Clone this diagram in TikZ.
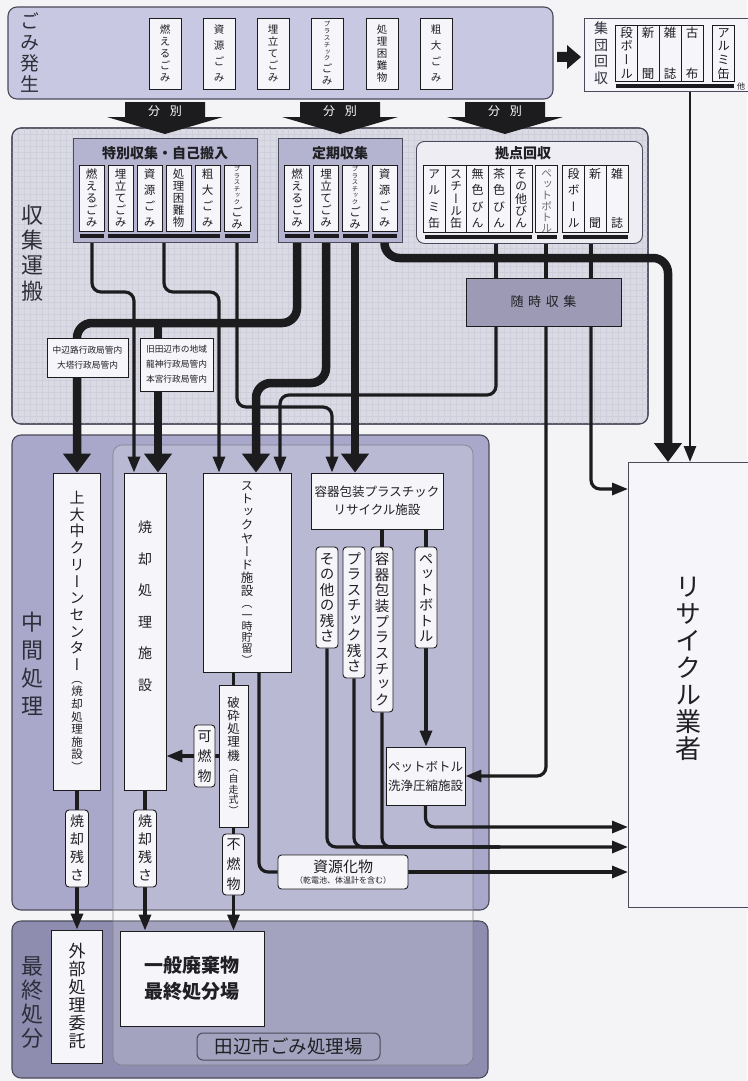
\documentclass[tikz,border=0pt]{standalone}
\usepackage{fontspec}
\setmainfont{Noto Sans CJK JP}
\newfontfamily\jpv[RawFeature=+vert]{Noto Sans CJK JP}
\usetikzlibrary{arrows.meta}
\pgfdeclarelayer{back}
\pgfdeclarelayer{lines}
\pgfsetlayers{back,lines,main}
\definecolor{pagebg}{HTML}{F4F4F7}
\definecolor{gomiF}{HTML}{C9C8E2}
\definecolor{shuF}{HTML}{DADAE4}
\definecolor{gridc}{HTML}{CFCFDB}
\definecolor{grpF}{HTML}{B5B4D0}
\definecolor{kyoF}{HTML}{EDEDF3}
\definecolor{zuiF}{HTML}{9C9AB4}
\definecolor{chuF}{HTML}{A9A8CA}
\definecolor{saiF}{HTML}{8E8CAF}
\definecolor{boxF}{HTML}{F6F6FA}
\definecolor{lnk}{HTML}{1C1C1E}
\definecolor{edge}{HTML}{4A4A5A}
\definecolor{txt}{HTML}{202024}
\definecolor{sectxt}{HTML}{2E2E3A}
\newcommand\vtxt[2]{\vbox to #1{\offinterlineskip\expandafter\vtloop#2\relax\unskip}}
\def\vtloop#1{\ifx\relax#1\else\hbox to 1.05em{\hss\vrule height .88em depth .12em width 0pt\relax#1\hss}\vfill\expandafter\vtloop\fi}
\newcommand\fs[1]{\fontsize{#1}{#1}\selectfont}
\newcommand\fsl[2]{\fontsize{#1}{#2}\selectfont}
\begin{document}
\begin{tikzpicture}[x=1pt,y=-1pt,
  sec/.style={draw=edge, line width=1.1pt, rounded corners=9pt},
  ib/.style={draw=lnk, line width=0.9pt, fill=boxF, inner sep=0pt, text=txt},
  lb/.style={ib, rounded corners=3.5pt},
  vl/.style={inner sep=0pt, text=sectxt},
  thn/.style={draw=lnk, line width=3.2pt, rounded corners=9pt},
  mid/.style={draw=lnk, line width=3.8pt},
  thk/.style={draw=lnk, line width=8.5pt, rounded corners=15pt},
  bar/.style={draw=lnk, line width=4pt},
  ath/.style={-{Triangle[width=12pt,length=16pt]}},
  atk/.style={-{Triangle[width=27pt,length=19pt]}},
]
\useasboundingbox (0,0) rectangle (747,1081);
\begin{pgfonlayer}{back}
\fill[pagebg] (0,0) rectangle (747,1081);
\draw[sec,fill=gomiF] (8,7) rectangle (553,99);
\draw[sec,fill=shuF] (12,128) rectangle (648,424);
\begin{scope}
\clip[rounded corners=9pt] (12,128) rectangle (648,424);
\foreach \gx in {18,24,...,648} \draw[gridc,line width=.5pt] (\gx,128) -- (\gx,424);
\foreach \gy in {134,140,...,424} \draw[gridc,line width=.5pt] (12,\gy) -- (648,\gy);
\end{scope}
\draw[sec] (12,128) rectangle (648,424);
\draw[sec,fill=chuF] (12,435) rectangle (489,910);
\draw[sec,fill=saiF] (12,921) rectangle (488,1078);
\fill[white,opacity=.2,rounded corners=9pt] (113,445) rectangle (473,1065);
\draw[edge!70,line width=.6pt,rounded corners=9pt] (113,445) rectangle (473,1065);
\end{pgfonlayer}

% section labels
\node[vl,font=\jpv\fs{19}] (Lgomi) at (30,53) {\vtxt{80pt}{ごみ発生}};
\node[vl,font=\jpv\fs{22}] (Lshu) at (32,253) {\vtxt{95pt}{収集運搬}};
\node[vl,font=\jpv\fs{22}] (Lchu) at (32,664) {\vtxt{104pt}{中間処理}};
\node[vl,font=\jpv\fs{22}] (Lsai) at (32,1002) {\vtxt{92pt}{最終処分}};

% gomi hassei items
\foreach \cx/\nm/\tx in {165/g1/燃えるごみ,219/g2/資源ごみ,273/g3/埋立てごみ,382/g5/処理困難物,436/g6/粗大ごみ}
  \node[ib,minimum width=32pt,minimum height=71pt,font=\jpv\fs{10.5}] (\nm) at (\cx,53.5) {\vtxt{58pt}{\tx}};
\node[ib,minimum width=32pt,minimum height=71pt,font=\jpv\fs{10.5},align=center] (g4) at (327,53.5) {{\fs{6.5}\vtxt{40pt}{プラスチック}}\\{\vtxt{22pt}{ごみ}}};

% arrow to shudan kaishu
\fill[lnk] (557,52) -- (567,52) -- (567,45) -- (581,57) -- (567,69) -- (567,62) -- (557,62) -- cycle;

% shudan kaishu
\node[ib,draw=edge,anchor=north west,minimum width=180pt,minimum height=73pt] (shudan) at (584,18) {};
\node[vl,font=\jpv\fs{14}] (Lshudan) at (601,53) {\vtxt{62pt}{集団回収}};
\foreach \cx/\nm/\tx in {626.5/s1/段ボール,648/s2/新聞,670/s3/雑誌,692/s4/古布,723.5/s5/アルミ缶}
  \node[ib,minimum width=22pt,minimum height=56pt,font=\jpv\fs{12.5}] (\nm) at (\cx,53) {\vtxt{52pt}{\tx}};
\node[font=\fs{8},inner sep=0pt,text=txt] (hoka) at (741,86) {他};
\draw[bar] (616,86) -- (734,86);
\coordinate (sb) at (690,86);

% bunbetsu arrows
\foreach \cx/\nm in {165/bb1,340/bb2,505/bb3}{
  \fill[lnk] (\cx-40,102) -- (\cx+40,102) -- (\cx+40,117) -- (\cx+58,117) -- (\cx,134) -- (\cx-58,117) -- (\cx-40,117) -- cycle;
  \node[text=white,font=\fs{12}] (\nm) at (\cx,111) {分\hspace{.8em}別};
}

% tokubetsu
\node[ib,fill=grpF,draw=edge,anchor=north west,minimum width=184pt,minimum height=104pt] (toku) at (73,138) {};
\node[font=\bfseries\fs{14},text=txt] (Ttoku) at (165,153) {特別収集・自己搬入};
\foreach \cx/\nm/\tx in {91.5/t1/燃えるごみ,120.5/t2/埋立てごみ,149.5/t3/資源ごみ,178.5/t4/処理困難物,207.5/t5/粗大ごみ}
  \node[ib,minimum width=25pt,minimum height=66pt,font=\jpv\fs{11.5}] (\nm) at (\cx,198) {\vtxt{58pt}{\tx}};
\node[ib,minimum width=26pt,minimum height=66pt,font=\jpv\fs{11.5},align=center] (t6) at (237,198) {{\fs{6.3}\vtxt{38pt}{プラスチック}}\\{\vtxt{22pt}{ごみ}}};
\draw[bar] (80,236) -- (104,236);
\draw[bar] (108,236) -- (220,236);
\draw[bar] (225,236) -- (250,236);
\coordinate (tb1) at (92,236);
\coordinate (tb2) at (164,236);
\coordinate (tb3) at (237,236);

% teiki
\node[ib,fill=grpF,draw=edge,anchor=north west,minimum width=124pt,minimum height=104pt] (teiki) at (278,138) {};
\node[font=\bfseries\fs{14},text=txt] (Tteiki) at (340,153) {定期収集};
\foreach \cx/\nm/\tx in {297/k1/燃えるごみ,326/k2/埋立てごみ,384.5/k4/資源ごみ}
  \node[ib,minimum width=25pt,minimum height=66pt,font=\jpv\fs{11.5}] (\nm) at (\cx,198) {\vtxt{58pt}{\tx}};
\node[ib,minimum width=26pt,minimum height=66pt,font=\jpv\fs{11.5},align=center] (k3) at (355,198) {{\fs{6.3}\vtxt{38pt}{プラスチック}}\\{\vtxt{22pt}{ごみ}}};
\foreach \cx in {297,326,355,384.5} \draw[bar] (\cx-12.5,236) -- (\cx+12.5,236);
\coordinate (kb1) at (297,236);
\coordinate (kb2) at (326,236);
\coordinate (kb3) at (355,236);
\coordinate (kb4) at (384.5,236);

% kyoten
\node[ib,fill=kyoF,draw=edge,rounded corners=8pt,anchor=north west,minimum width=226pt,minimum height=102pt] (kyoten) at (416,141) {};
\node[font=\bfseries\fs{14},text=txt] (Tkyo) at (523,153) {拠点回収};
\foreach \cx/\nm/\tx in {434/p1/アルミ缶,456/p2/スチール缶,477.5/p3/無色びん,499/p4/茶色びん,521/p5/その他びん,573.5/p7/段ボール,595/p8/新聞,617/p9/雑誌}
  \node[ib,minimum width=22pt,minimum height=67pt,font=\jpv\fs{12}] (\nm) at (\cx,198.5) {\vtxt{60pt}{\tx}};
\node[ib,minimum width=22pt,minimum height=67pt,font=\jpv\fs{11},text=txt!65] (p6) at (546.5,198.5) {\vtxt{60pt}{ペットボトル}};
\draw[bar] (425,237) -- (532,237);
\draw[bar] (537,237) -- (557,237);
\draw[bar] (563,237) -- (628,237);
\coordinate (pb1) at (496,237);
\coordinate (pb2) at (546,237);
\coordinate (pb3) at (591,237);

\node[ib,fill=zuiF,minimum width=155pt,minimum height=48pt,font=\fs{13}] (zuiji) at (543.5,302) {随\hspace{.35em}時\hspace{.35em}収\hspace{.35em}集};

% area labels
\node[ib,minimum width=81pt,minimum height=39pt,align=center,font=\fsl{8.7}{15}] (nakahe) at (87.5,357.5) {中辺路行政局管内\\大塔行政局管内};
\node[ib,minimum width=73pt,minimum height=53pt,align=center,font=\fsl{8.7}{15}] (kyuta) at (176.5,364.5) {旧田辺市の地域\\龍神行政局管内\\本宮行政局管内};

% recycle
\node[ib,draw=edge,anchor=north west,minimum width=130pt,minimum height=445pt] (rec) at (628,462) {};
\node[vl,text=txt,font=\jpv\fs{26}] (Lrec) at (688,668) {\vtxt{185pt}{リサイクル業者}};

% chukan shori
\node[ib,minimum width=47pt,minimum height=317pt,align=center,font=\jpv] (kamio) at (77,631.5) {{\fs{15}\vtxt{180pt}{上大中クリーンセンター}}\\{\fs{11.5}\vtxt{98pt}{（焼却処理施設）}}};
\node[ib,minimum width=42pt,minimum height=317pt] (shoukyaku) at (145,631.5) {};
\node[vl,text=txt,font=\jpv\fs{14}] (Lshou) at (145,606) {\vtxt{170pt}{焼却処理施設}};
\node[ib,minimum width=88pt,minimum height=199pt,align=center,font=\jpv] (stock) at (247,572.5) {{\fs{12.5}\vtxt{116pt}{ストックヤード施設}}\\{\fs{11}\vtxt{66pt}{（一時貯留）}}};
\node[ib,minimum width=132pt,minimum height=56pt,align=center,font=\fsl{12.5}{18}] (youki) at (377,501) {容器包装プラスチック\\リサイクル施設};
\node[ib,minimum width=79pt,minimum height=58pt,align=center,font=\fsl{12.5}{19}] (senjou) at (425.5,776) {ペットボトル\\洗浄圧縮施設};
\node[ib,minimum width=29pt,minimum height=142pt,align=center,font=\jpv] (hasai) at (233.5,756) {{\fs{12.5}\vtxt{64pt}{破砕処理機}}\\{\fs{10}\vtxt{52pt}{（自走式）}}};
\node[lb,minimum width=130pt,minimum height=34pt,align=center] (shigen) at (343,872) {{\fs{15}資源化物}\\[-1pt]{\fs{8}（乾電池、体温計を含む）}};

\node[lb,minimum width=22pt,minimum height=101pt,font=\jpv\fs{14.5}] (yz1) at (327,597.5) {\vtxt{90pt}{その他の残さ}};
\node[lb,minimum width=22pt,minimum height=131pt,font=\jpv\fs{14.5}] (yz2) at (354,612.5) {\vtxt{120pt}{プラスチック残さ}};
\node[lb,minimum width=22pt,minimum height=165pt,font=\jpv\fs{14.5}] (yz3) at (382,629.5) {\vtxt{154pt}{容器包装プラスチック}};
\node[lb,minimum width=22pt,minimum height=101pt,font=\jpv\fs{14.5}] (yz4) at (426,597.5) {\vtxt{90pt}{ペットボトル}};

\node[lb,minimum width=23pt,minimum height=77pt,font=\jpv\fs{14}] (zan1) at (77,848.5) {\vtxt{66pt}{焼却残さ}};
\node[lb,minimum width=23pt,minimum height=77pt,font=\jpv\fs{14}] (zan2) at (145,848.5) {\vtxt{66pt}{焼却残さ}};
\node[lb,minimum width=21pt,minimum height=62pt,font=\jpv\fs{14}] (kanen) at (204.5,756) {\vtxt{52pt}{可燃物}};
\node[lb,minimum width=22pt,minimum height=61pt,font=\jpv\fs{14}] (funen) at (233.5,864.5) {\vtxt{52pt}{不燃物}};

% saishu shobun
\node[ib,minimum width=51pt,minimum height=133pt,font=\jpv\fs{17}] (gaibu) at (77,996.5) {\vtxt{105pt}{外部処理委託}};
\node[ib,minimum width=144pt,minimum height=95pt,align=center,font=\bfseries\fsl{19}{26}] (ippan) at (192,978.5) {一般廃棄物\\最終処分場};
\node[draw=edge,line width=1pt,rounded corners=6pt,inner sep=0pt,minimum width=183pt,minimum height=27pt,font=\fs{18.5},text=txt] (tanabe) at (288.5,1046.5) {田辺市ごみ処理場};

% arrow targets
\coordinate (a_kam) at (kamio.north);
\coordinate (a_sy1) at ([xshift=-11pt]shoukyaku.north);
\coordinate (a_sy2) at ([xshift=13pt]shoukyaku.north);
\coordinate (a_st1) at ([xshift=-28pt]stock.north);
\coordinate (a_st2) at ([xshift=9pt]stock.north);
\coordinate (a_st3) at ([xshift=33pt]stock.north);
\coordinate (a_yk1) at ([xshift=-45pt]youki.north);
\coordinate (a_yk2) at ([xshift=-22pt]youki.north);
\coordinate (a_rc1) at ([yshift=-27pt]rec.north west);
\coordinate (a_rc2) at ([xshift=40pt]rec.north west);
\coordinate (h1) at (200,323);
\coordinate (m0) at (500,827);
\coordinate (m1) at (500,847);

\begin{pgfonlayer}{lines}
% thin lines
\draw[thn,ath] (tb1) |- (113,292) -| (a_sy1);
\draw[thn,ath] (tb2) |- (190,292) -| (a_st1);
\draw[thn,ath] (tb3) |- (285,407) -| (a_yk1);
\draw[thn,ath] (zuiji.south -| pb1) |- (390,395) -| (a_st3);
\draw[thn,ath] (zuiji.south -| pb2) |- (senjou.east);
\draw[thn,ath] (zuiji.south -| pb3) |- (a_rc1);
\draw[thn,ath,line width=2.6pt] (sb) -- (sb |- rec.north);
% kyoten to zuiji
\draw[mid] (pb1) -- (pb1 |- zuiji.north);
\draw[mid] (pb2) -- (pb2 |- zuiji.north);
\draw[mid] (pb3) -- (pb3 |- zuiji.north);
% thick lines
\draw[thk,atk] (kb1) |- (h1) -| (a_kam);
\draw[thk,atk] (a_sy2 |- h1) -- (a_sy2);
\draw[thk,atk] (kb2) |- (290,383) -| (a_st2);
\draw[thk,atk] (kb3) -- (kb3 |- youki.north);
\draw[thk,atk] (kb4) |- (500,258) -| (a_rc2);
% chukan shori internal
\draw[thn,ath] (kamio.south) -- (gaibu.north);
\draw[thn,ath] (shoukyaku.south) -- (shoukyaku.south |- ippan.north);
\draw[thn] (hasai.north |- stock.south) -- (hasai.north);
\draw[thn,ath] (hasai.west) -- (hasai.west -| shoukyaku.east);
\draw[thn,ath] (hasai.south) -- (hasai.south |- ippan.north);
\draw[thn] ([xshift=12pt]stock.south) |- (shigen.west);
\draw[thn,ath] (shigen.east) -- (shigen.east -| rec.west);
\draw[mid] (youki.south -| yz3) -- (yz3.north);
\draw[mid] (youki.south -| yz4) -- (yz4.north);
\draw[thn] (yz1.south) |- (m1);
\draw[thn] (yz2.south) |- (m1);
\draw[thn,ath] (yz3.south) |- (m1) -- (m1 -| rec.west);
\draw[thn,ath] (yz4.south) -- (yz4.south |- senjou.north);
\draw[thn,ath] (senjou.south) |- (m0) -- (m0 -| rec.west);
\end{pgfonlayer}
\end{tikzpicture}
\end{document}
